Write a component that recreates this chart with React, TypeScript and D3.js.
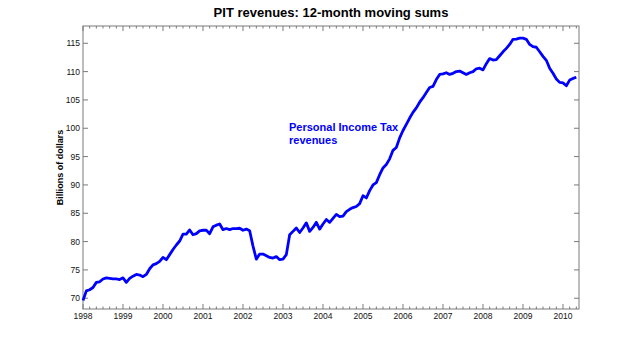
import React from "react";
import * as d3 from "d3";

const startYear = 1998;
const pitRevenues: number[] = [
  69.6, 71.3, 71.5, 71.9, 72.8, 72.9, 73.4, 73.6, 73.5, 73.4, 73.4, 73.3,
  73.6, 72.8, 73.5, 73.9, 74.2, 74.1, 73.8, 74.2, 75.2, 75.9, 76.1, 76.5,
  77.2, 76.8, 77.7, 78.6, 79.4, 80.1, 81.3, 81.3, 82.05, 81.2, 81.4, 81.9,
  82.0, 82.0, 81.4, 82.6, 82.9, 83.1, 82.1, 82.3, 82.1, 82.3, 82.3, 82.35,
  82.0, 82.2, 81.9, 79.2, 76.9, 77.8, 77.8, 77.5, 77.2, 77.1, 77.35, 76.8,
  76.9, 77.7, 81.2, 81.8, 82.4, 81.6, 82.4, 83.3, 81.8, 82.5, 83.4, 82.2,
  83.1, 83.9, 83.4, 84.1, 84.8, 84.4, 84.5, 85.3, 85.7, 86.0, 86.2, 86.7,
  88.1, 87.7, 89.0, 90.0, 90.4, 91.8, 93.0, 93.6, 94.6, 96.1, 96.6, 98.3,
  99.6, 100.7, 101.8, 102.8, 103.6, 104.6, 105.4, 106.3, 107.2, 107.4, 108.6, 109.5,
  109.6, 109.8, 109.5, 109.7, 110.0, 110.1, 109.8, 109.5, 109.8, 110.0, 110.5, 110.6,
  110.3, 111.4, 112.3, 112.05, 112.1, 112.8, 113.5, 114.1, 114.8, 115.7, 115.75, 115.9,
  115.9, 115.7, 114.8, 114.4, 114.3, 113.5, 112.7, 112.0, 110.6, 109.7, 108.7, 108.1,
  108.0, 107.5, 108.5, 108.8, 109.0,
];
const yearTicks: number[] = [1998, 1999, 2000, 2001, 2002, 2003, 2004, 2005, 2006, 2007, 2008, 2009, 2010];
const valueTicks: number[] = [70, 75, 80, 85, 90, 95, 100, 105, 110, 115];
const titleText = "PIT revenues: 12-month moving sums";
const yLabelText = "Billions of dollars";
const annotationLines: string[] = ["Personal Income Tax", "revenues"];

const W = 640;
const H = 348;
const L = 83;
const R = 579;
const T = 26;
const B = 309;
const FONT = "'Liberation Sans', Arial, Helvetica, sans-serif";
const AXIS = "#7a7a7a";

export default function App() {
  const x = d3.scaleLinear().domain([1998, 2010.4]).range([L, R]);
  const y = d3.scaleLinear().domain([68.1, 118.05]).range([B, T]);
  const pts = pitRevenues.map((v, i) => ({ t: startYear + i / 12, v }));
  const line = d3
    .line<{ t: number; v: number }>()
    .x((d) => x(d.t))
    .y((d) => y(d.v));
  const minorTicks: number[] = [];
  for (let m = 0; m <= 12.4 * 12; m += 2) {
    const t = 1998 + m / 12;
    if (m % 12 !== 0 && t <= 2010.4) minorTicks.push(t);
  }
  return (
    <svg
      width={W}
      height={H}
      style={{ position: "absolute", left: 0, top: 0, background: "#fff" }}
      fontFamily={FONT}
    >
      <rect x={0} y={0} width={W} height={H} fill="#fff" />
      <text x={(L + R) / 2} y={17} textAnchor="middle" fontSize={13} fontWeight="bold" fill="#000">
        {titleText}
      </text>
      {minorTicks.map((t) => (
        <g key={"m" + t}>
          <line x1={x(t)} x2={x(t)} y1={B} y2={B - 2.5} stroke={AXIS} strokeWidth={1} />
          <line x1={x(t)} x2={x(t)} y1={T} y2={T + 2.5} stroke={AXIS} strokeWidth={1} />
        </g>
      ))}
      {yearTicks.map((t) => (
        <g key={"y" + t}>
          <line x1={x(t)} x2={x(t)} y1={B} y2={B - 5} stroke={AXIS} strokeWidth={1} />
          <line x1={x(t)} x2={x(t)} y1={T} y2={T + 5} stroke={AXIS} strokeWidth={1} />
          <text x={x(t)} y={318.5} textAnchor="middle" fontSize={8.5} fill="#111">
            {t}
          </text>
        </g>
      ))}
      {valueTicks.map((v) => (
        <g key={"v" + v}>
          <line x1={L} x2={L + 5} y1={y(v)} y2={y(v)} stroke={AXIS} strokeWidth={1} />
          <line x1={R} x2={R - 5} y1={y(v)} y2={y(v)} stroke={AXIS} strokeWidth={1} />
          <text x={L - 3} y={y(v) + 3} textAnchor="end" fontSize={8.5} fill="#111">
            {v}
          </text>
        </g>
      ))}
      <rect x={L} y={T} width={R - L} height={B - T} fill="none" stroke={AXIS} strokeWidth={1} />
      <text
        transform={`translate(63,${(T + B) / 2}) rotate(-90)`}
        textAnchor="middle"
        fontSize={9}
        fontWeight="bold"
        fill="#000"
      >
        {yLabelText}
      </text>
      <path d={line(pts) || ""} fill="none" stroke="#0000ff" strokeWidth={2.8} strokeLinejoin="round" />
      {annotationLines.map((s, i) => (
        <text key={s} x={289} y={131 + i * 13} fontSize={11} fontWeight="bold" fill="#0000ff">
          {s}
        </text>
      ))}
    </svg>
  );
}
